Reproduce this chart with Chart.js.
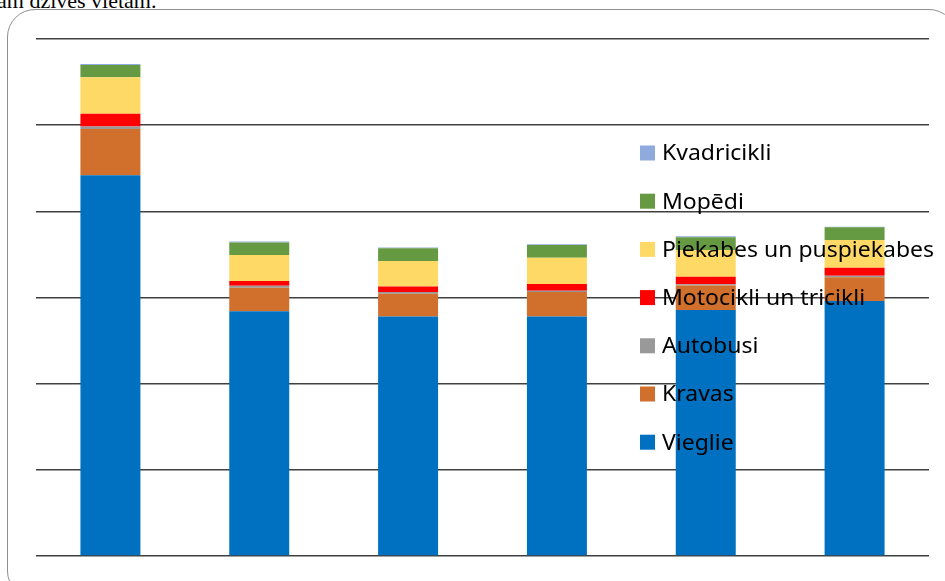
<!DOCTYPE html>
<html>
<head>
<meta charset="utf-8">
<script src="https://cdn.jsdelivr.net/npm/chart.js@4.4.1/dist/chart.umd.min.js"></script>
<style>
  html, body { margin: 0; padding: 0; background: #fff; overflow: hidden; }
  #wrap { position: relative; width: 945px; height: 581px; }
  #frame {
    position: absolute; left: 7px; top: 9px; width: 950px; height: 590px;
    border: 1.5px solid #8f8f8f; border-radius: 28px; box-sizing: border-box;
  }
  #caption {
    position: absolute; left: -3px; top: -11px; white-space: nowrap;
    font: 22px "Liberation Serif", "Times New Roman", serif; color: #000; line-height: 24px;
  }
  #chart { position: absolute; left: 0; top: 0; }
</style>
</head>
<body>
<div id="wrap">
  <div id="caption">ām dzīves vietām.</div>
  <div id="frame"></div>
  <canvas id="chart" width="945" height="581"></canvas>
</div>
<script>
// categories (axis labels are not shown in the picture)
const categories = ['1', '2', '3', '4', '5', '6'];

// stacked values, in units of one gridline step
const vieglie     = [4.42, 2.84, 2.78, 2.78, 2.855, 2.96];
const kravas      = [0.535, 0.274, 0.264, 0.283, 0.283, 0.276];
const autobusi    = [0.03, 0.023, 0.02, 0.015, 0.016, 0.015];
const motocikli   = [0.148, 0.055, 0.065, 0.078, 0.088, 0.093];
const piekabes    = [0.422, 0.302, 0.295, 0.306, 0.31, 0.322];
const mopedi      = [0.144, 0.143, 0.147, 0.148, 0.148, 0.148];
const kvadricikli = [0.012, 0.012, 0.01, 0.008, 0.01, 0.008];

const seriesNames = ['Vieglie', 'Kravas', 'Autobusi', 'Motocikli un tricikli',
                     'Piekabes un puspiekabes', 'Mopēdi', 'Kvadricikli'];
const seriesData = [vieglie, kravas, autobusi, motocikli, piekabes, mopedi, kvadricikli];
const seriesColors = ['#0070C0', '#D0702C', '#999999', '#FF0000', '#FFD966', '#659A43', '#8FAADC'];

// legend drawn over the plot, like in the original
const overlayLegend = {
    id: 'overlayLegend',
    afterDatasetsDraw(chart) {
        const ctx = chart.ctx;
        const ds = chart.data.datasets;
        const x0 = 640, y0 = 153, step = 48.2, box = 15;
        const maxW = 272;
        ctx.save();
        ctx.font = '22.5px "Noto Sans", "Liberation Sans", sans-serif';
        ctx.textBaseline = 'middle';
        // stretch text so the longest label keeps the original width
        let widest = 0;
        ds.forEach(d => { widest = Math.max(widest, ctx.measureText(d.label).width); });
        const sx = maxW / widest;
        for (let i = ds.length - 1, row = 0; i >= 0; i--, row++) {
            const y = y0 + row * step;
            ctx.fillStyle = ds[i].backgroundColor;
            ctx.fillRect(x0, y - box / 2, box, box);
            ctx.fillStyle = '#000';
            ctx.save();
            ctx.translate(x0 + 22, y + 1);
            ctx.scale(sx, 1);
            ctx.fillText(ds[i].label, 0, 0);
            ctx.restore();
        }
        ctx.restore();
    }
};

document.addEventListener('DOMContentLoaded', function() {
    const ctx = document.getElementById('chart').getContext('2d');
    new Chart(ctx, {
        type: 'bar',
        data: {
            labels: categories,
            datasets: seriesNames.map((name, i) => ({
                label: name,
                data: seriesData[i],
                backgroundColor: seriesColors[i],
                borderWidth: 0,
                categoryPercentage: 1,
                barPercentage: 0.403
            }))
        },
        options: {
            responsive: false,
            animation: false,
            layout: { padding: { left: 36, right: 16, top: 39, bottom: 25 } },
            plugins: {
                legend: { display: false },
                tooltip: { enabled: false }
            },
            scales: {
                x: {
                    stacked: true,
                    grid: { display: false, drawTicks: false },
                    border: { display: false },
                    ticks: { display: false }
                },
                y: {
                    stacked: true,
                    min: 0,
                    max: 6,
                    ticks: { display: false, stepSize: 1 },
                    grid: { color: '#404040', lineWidth: 1.5, drawTicks: false },
                    border: { display: false }
                }
            }
        },
        plugins: [overlayLegend]
    });
});
</script>
</body>
</html>
